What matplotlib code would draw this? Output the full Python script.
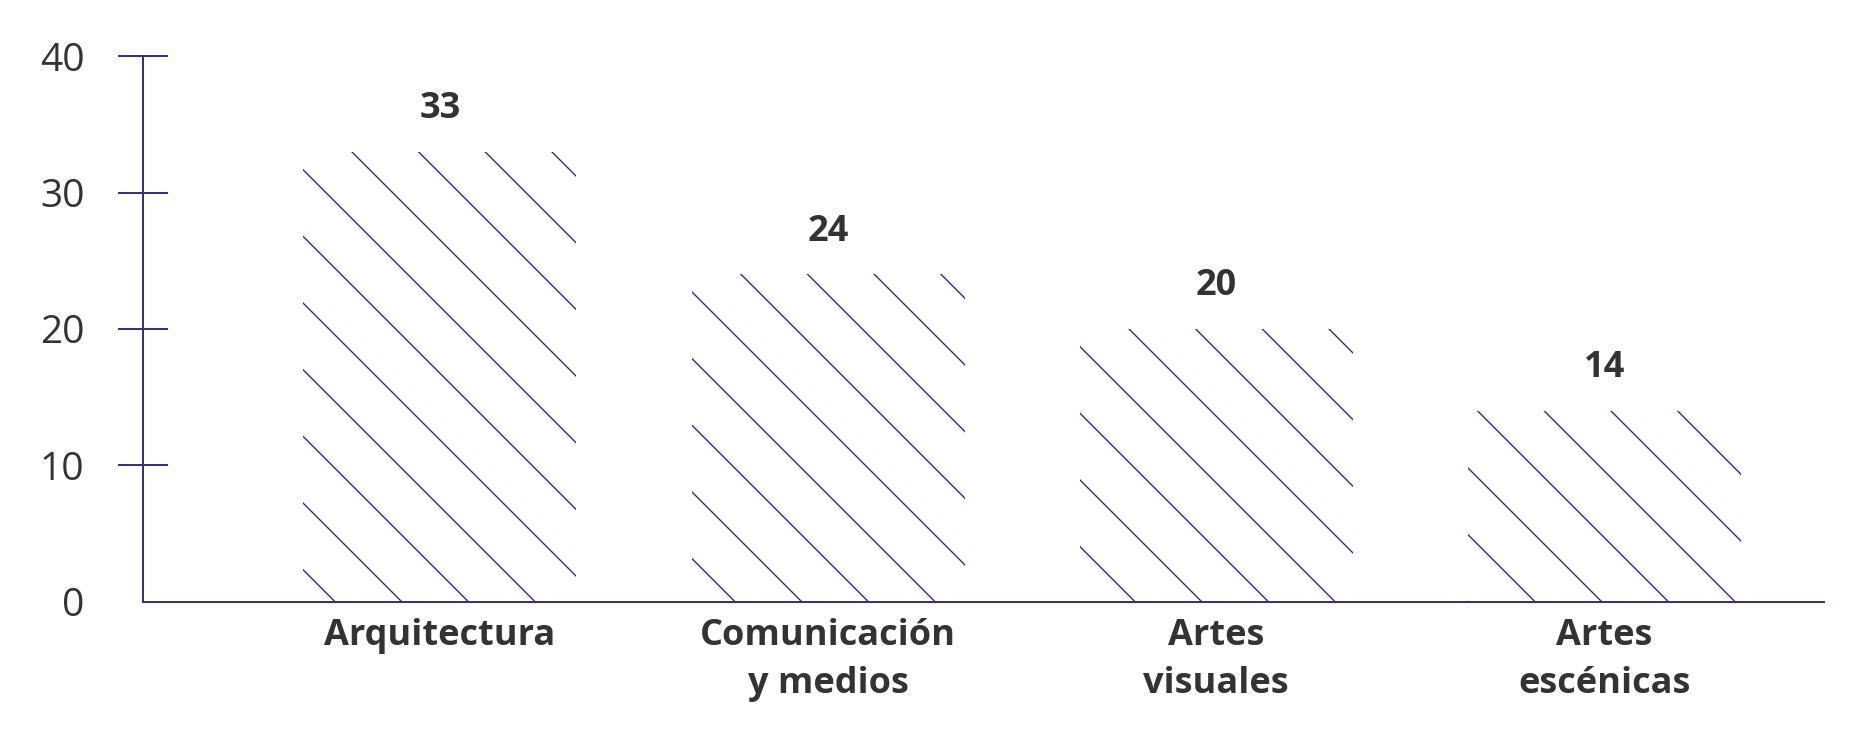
import matplotlib
matplotlib.use("Agg")
import matplotlib.pyplot as plt

categories = ["Arquitectura", "Comunicación\ny medios", "Artes\nvisuales", "Artes\nescénicas"]
values = [33, 24, 20, 14]
yticks = [0, 10, 20, 30, 40]

navy = "#2e2c87"
txt = "#333333"
plt.rcParams["font.family"] = ["Open Sans", "DejaVu Sans"]
plt.rcParams["hatch.linewidth"] = 0.5

fig = plt.figure(figsize=(9.27, 3.65), dpi=200)
ax = fig.add_axes([0.077, 0.176, 0.907, 0.747])
x = list(range(len(values)))
ax.bar(x, values, width=0.703, facecolor="none", edgecolor=navy, hatch="\\", linewidth=0)
for xi, v in zip(x, values):
    ax.text(xi, v + 1.8, str(v), ha="center", va="bottom", fontsize=13, fontweight="bold", color=txt)
ax.set_xlim(-0.765, 3.566)
ax.set_ylim(0, 40)
ax.set_yticks(yticks)
ax.set_xticks(x)
ax.set_xticklabels(categories, fontsize=13, fontweight="bold", color=txt, linespacing=1.45)
ax.tick_params(axis="x", length=0, pad=6)
ax.tick_params(axis="y", direction="inout", length=18, width=0.7, color=navy, labelsize=14, labelcolor=txt, pad=12)
t0 = ax.yaxis.get_major_ticks()[0]
t0.tick1line.set_visible(False)
for s in ["top", "right"]:
    ax.spines[s].set_visible(False)
for s in ["left", "bottom"]:
    ax.spines[s].set_color(navy)
    ax.spines[s].set_linewidth(0.7)
fig.savefig("out.png", dpi=200)
